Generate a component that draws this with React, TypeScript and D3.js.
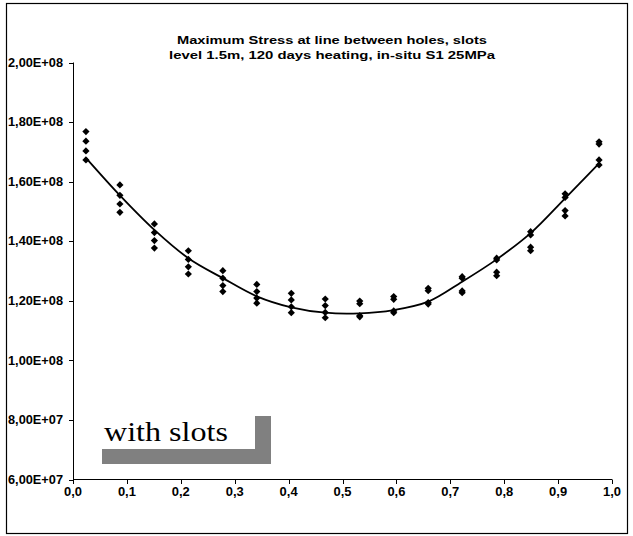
import React from "react";
import * as d3 from "d3";

const titleLines = [
  "Maximum Stress at line between holes, slots",
  "level 1.5m, 120 days heating, in-situ S1 25MPa",
];
const xTicks = [0, 0.1, 0.2, 0.3, 0.4, 0.5, 0.6, 0.7, 0.8, 0.9, 1.0];
const xTickLabels = ["0,0", "0,1", "0,2", "0,3", "0,4", "0,5", "0,6", "0,7", "0,8", "0,9", "1,0"];
const yTicks = [6e7, 8e7, 1e8, 1.2e8, 1.4e8, 1.6e8, 1.8e8, 2e8];
const yTickLabels = ["6,00E+07", "8,00E+07", "1,00E+08", "1,20E+08", "1,40E+08", "1,60E+08", "1,80E+08", "2,00E+08"];

// positions along the line between holes
const positions = [0.024, 0.087, 0.151, 0.214, 0.278, 0.341, 0.405, 0.468, 0.532, 0.595, 0.659, 0.722, 0.786, 0.849, 0.913, 0.976];
// scattered stress values at each position (Pa)
const pointValues = [
  [1.768e8, 1.736e8, 1.703e8, 1.673e8],
  [1.589e8, 1.554e8, 1.525e8, 1.497e8],
  [1.458e8, 1.429e8, 1.402e8, 1.377e8],
  [1.368e8, 1.339e8, 1.314e8, 1.29e8],
  [1.301e8, 1.276e8, 1.251e8, 1.231e8],
  [1.255e8, 1.231e8, 1.209e8, 1.192e8],
  [1.225e8, 1.203e8, 1.18e8, 1.16e8],
  [1.206e8, 1.184e8, 1.161e8, 1.143e8],
  [1.199e8, 1.19e8, 1.15e8, 1.146e8],
  [1.214e8, 1.205e8, 1.166e8, 1.16e8],
  [1.242e8, 1.234e8, 1.194e8, 1.189e8],
  [1.281e8, 1.276e8, 1.233e8, 1.227e8],
  [1.343e8, 1.337e8, 1.296e8, 1.284e8],
  [1.432e8, 1.421e8, 1.38e8, 1.368e8],
  [1.559e8, 1.547e8, 1.503e8, 1.485e8],
  [1.734e8, 1.726e8, 1.673e8, 1.656e8],
];
// trend line values
const lineValues = [1.68e8, 1.554e8, 1.438e8, 1.343e8, 1.276e8, 1.215e8, 1.178e8, 1.16e8, 1.158e8, 1.169e8, 1.197e8, 1.264e8, 1.339e8, 1.427e8, 1.544e8, 1.661e8];

const annotation = "with slots";

export default function App() {
  const x = d3.scaleLinear().domain([0, 1]).range([73, 612]);
  const y = d3.scaleLinear().domain([6e7, 2e8]).range([479.5, 62.5]);
  const font = "'Liberation Sans', Arial, sans-serif";

  const line = d3
    .line<number>()
    .x((_, i) => x(positions[i]))
    .y((d) => y(d))
    .curve(d3.curveCatmullRom.alpha(0.5));

  const r = 3.6;
  const diamond = `M0,${-r}L${r},0L0,${r}L${-r},0Z`;

  return (
    <svg
      width={633}
      height={536}
      style={{ position: "absolute", left: 0, top: 0, background: "#fff" }}
    >
      <rect x={0} y={0} width={633} height={536} fill="#fff" />
      <rect x={6.5} y={3.5} width={621} height={530} fill="none" stroke="#000" strokeWidth={1.2} />

      {titleLines.map((t, i) => (
        <text
          key={i}
          x={332}
          y={44 + i * 15}
          textAnchor="middle"
          fontFamily={font}
          fontWeight="bold"
          fontSize={11.5}
          textLength={i === 0 ? 310 : 326}
          lengthAdjust="spacingAndGlyphs"
        >
          {t}
        </text>
      ))}

      {/* axes */}
      <line x1={73.5} x2={73.5} y1={y(2e8)} y2={y(6e7)} stroke="#000" strokeWidth={1} />
      <line x1={73} x2={612} y1={479.5} y2={479.5} stroke="#000" strokeWidth={1} />

      {yTicks.map((v, i) => (
        <g key={i}>
          <line x1={69} x2={73.5} y1={Math.round(y(v)) + 0.5} y2={Math.round(y(v)) + 0.5} stroke="#000" />
          <text
            x={63}
            y={y(v) + 4.2}
            textAnchor="end"
            fontFamily={font}
            fontWeight="bold"
            fontSize={12}
            textLength={55}
            lengthAdjust="spacingAndGlyphs"
          >
            {yTickLabels[i]}
          </text>
        </g>
      ))}

      {xTicks.map((v, i) => (
        <g key={i}>
          <line x1={Math.round(x(v)) + 0.5} x2={Math.round(x(v)) + 0.5} y1={479.5} y2={484} stroke="#000" />
          <text
            x={x(v)}
            y={496}
            textAnchor="middle"
            fontFamily={font}
            fontWeight="bold"
            fontSize={12}
            textLength={18}
            lengthAdjust="spacingAndGlyphs"
          >
            {xTickLabels[i]}
          </text>
        </g>
      ))}

      {/* annotation box */}
      <rect x={102} y={449} width={169} height={15} fill="#808080" />
      <rect x={255} y={416} width={16} height={48} fill="#808080" />
      <text
        x={104}
        y={441}
        fontFamily="'Liberation Serif', 'Times New Roman', serif"
        fontSize={28}
        textLength={124}
        lengthAdjust="spacingAndGlyphs"
      >
        {annotation}
      </text>

      {/* points */}
      {pointValues.map((vals, i) =>
        vals.map((v, j) => (
          <path
            key={`${i}-${j}`}
            d={diamond}
            transform={`translate(${x(positions[i])},${y(v)})`}
            fill="#000"
          />
        ))
      )}

      <path d={line(lineValues) as string} fill="none" stroke="#000" strokeWidth={1.8} />
    </svg>
  );
}
